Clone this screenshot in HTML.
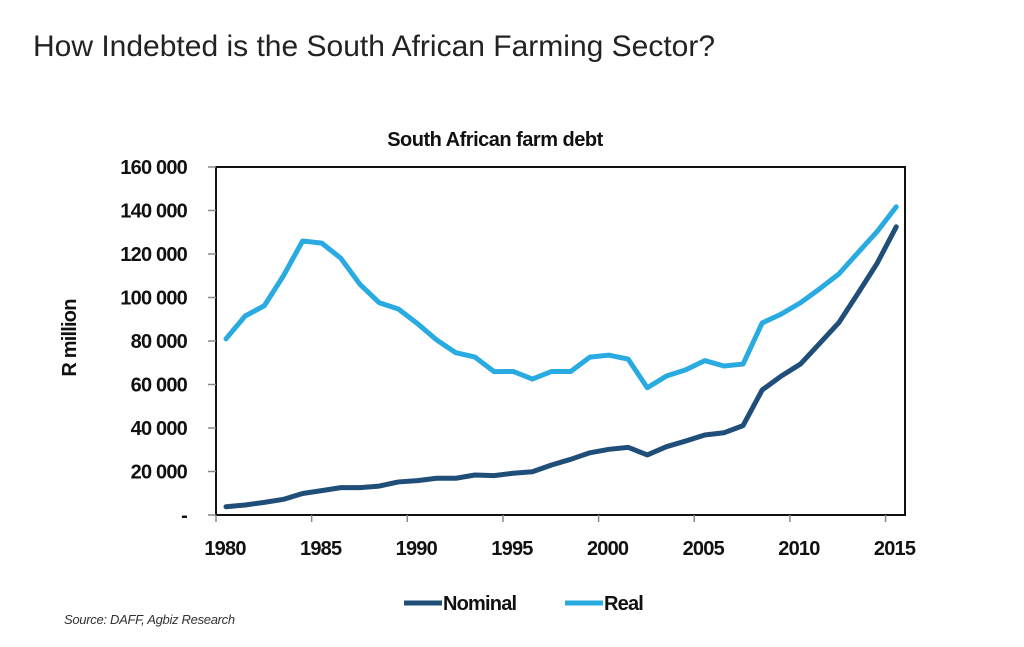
<!DOCTYPE html>
<html><head><meta charset="utf-8"><style>
body{margin:0;background:#fff;width:1024px;height:647px;overflow:hidden}
svg{display:block}
.ax{font-family:"Liberation Sans",sans-serif;font-weight:bold;font-size:20px;letter-spacing:-0.8px;fill:#111}
.src{font-family:"Liberation Sans",sans-serif;font-style:italic;font-size:13px;fill:#333;letter-spacing:-0.3px}
</style></head><body>
<svg width="1024" height="647">
<text x="33" y="56" font-family="Liberation Sans, sans-serif" font-size="30" fill="#222">How Indebted is the South African Farming Sector?</text>
<text x="495" y="146" text-anchor="middle" font-family="Liberation Sans, sans-serif" font-weight="bold" font-size="20" letter-spacing="-0.5" fill="#111">South African farm debt</text>
<text transform="translate(76,338) rotate(-90)" text-anchor="middle" class="ax">R million</text>
<rect x="216" y="167" width="689" height="348" fill="none" stroke="#111" stroke-width="2"/>
<g id="yt"></g><g id="xt"></g><g id="lines"></g>
<g>
<line x1="404" y1="603" x2="442" y2="603" stroke="#1f4e79" stroke-width="5"/>
<text x="443" y="610" class="ax">Nominal</text>
<line x1="565" y1="603" x2="603" y2="603" stroke="#29abe2" stroke-width="5"/>
<text x="604" y="610" class="ax">Real</text>
</g>
<text x="64" y="624" class="src">Source:  DAFF, Agbiz  Research</text>
</svg>
<script>
const years=[1980,1981,1982,1983,1984,1985,1986,1987,1988,1989,1990,1991,1992,1993,1994,1995,1996,1997,1998,1999,2000,2001,2002,2003,2004,2005,2006,2007,2008,2009,2010,2011,2012,2013,2014,2015];
const realValues=[81000,91500,96200,110000,126000,125000,118000,106000,97600,94700,88000,80500,74600,72600,65900,66000,62500,66000,66000,72600,73500,71700,58500,63900,66700,71000,68500,69400,88300,92400,97600,104000,110800,120600,130300,141700];
const nominalValues=[3800,4600,5800,7200,9900,11200,12600,12600,13300,15200,15800,16900,16900,18400,18100,19200,19900,23000,25600,28600,30200,31100,27600,31400,34000,36800,37800,41100,57500,63900,69400,78900,88400,101900,115700,132500];
const yTicks=[0,20000,40000,60000,80000,100000,120000,140000,160000];
const yTickLabels=["-","20 000","40 000","60 000","80 000","100 000","120 000","140 000","160 000"];
const xTicks=[1980,1985,1990,1995,2000,2005,2010,2015];
const NS="http://www.w3.org/2000/svg";
const X=y=>226+(y-1980)*19.15;
const Y=v=>515-v*(348/160000);
const XT=y=>216+(y-1980)*19.13;
function mk(t,a){const e=document.createElementNS(NS,t);for(const k in a)e.setAttribute(k,a[k]);return e;}
const yt=document.getElementById('yt');
yTicks.forEach((v,i)=>{
 const l=mk('line',{x1:208,x2:216,y1:Y(v),y2:Y(v),stroke:'#888','stroke-width':1.5});
 
 
 yt.appendChild(l);
 const t=mk('text',{x:187,y:Y(v)+7,'text-anchor':'end',class:'ax'});
 t.textContent=yTickLabels[i];
 
 
 yt.appendChild(t);
});
const xt=document.getElementById('xt');
xTicks.forEach(yr=>{
 const l=mk('line',{x1:XT(yr),x2:XT(yr),y1:515,y2:522,stroke:'#888','stroke-width':1.5});
 
 
 xt.appendChild(l);
 const t=mk('text',{x:XT(yr)+9,y:555,'text-anchor':'middle',class:'ax'});
 t.textContent=yr;
 
 
 xt.appendChild(t);
});
const lg=document.getElementById('lines');
function line(vals,color,name){
 const p=mk('polyline',{points:vals.map((v,i)=>X(years[i])+','+Y(v)).join(' '),fill:'none',stroke:color,'stroke-width':5,'stroke-linejoin':'round','stroke-linecap':'round'});
 
 
 lg.appendChild(p);
}
line(realValues,'#29abe2','real-line');
line(nominalValues,'#1f4e79','nominal-line');
</script>
</body></html>
